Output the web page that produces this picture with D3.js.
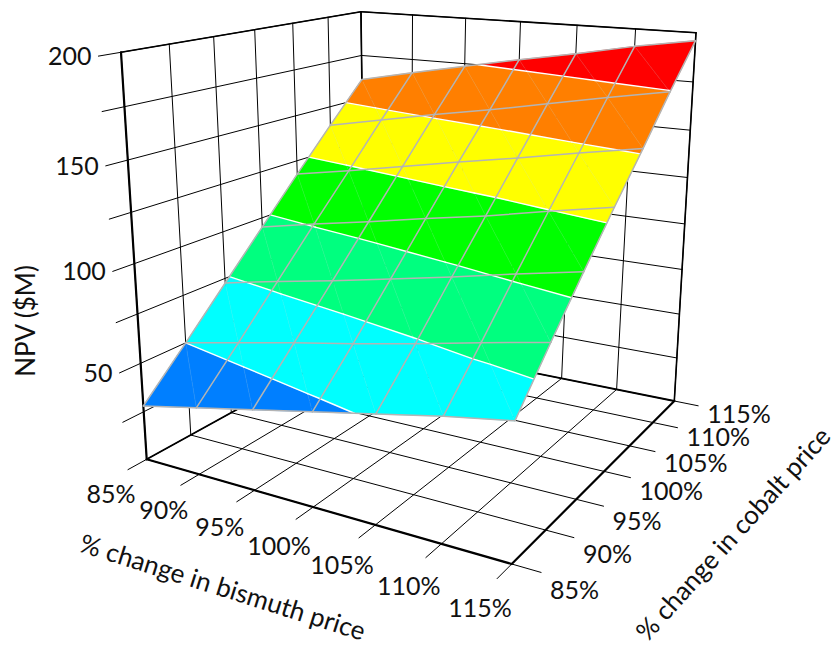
<!DOCTYPE html>
<html>
<head>
<meta charset="utf-8">
<script src="https://cdn.jsdelivr.net/npm/d3@7"></script>
<style>
	html, body { margin: 0; padding: 0; background: #fff; }
	svg { display: block; }
	text { font-family: Lato, "Open Sans", sans-serif; fill: #111; }
</style>
</head>
<body>
<div id="chart"></div>
<script>
////////////////////////////////////////////////////////////////////////////////////////
// data
////////////////////////////////////////////////////////////////////////////////////////
var bismuthTicks = [85, 90, 95, 100, 105, 110, 115];
var cobaltTicks = [85, 90, 95, 100, 105, 110, 115];
var npvGrid = [0, 25, 50, 75, 100, 125, 150, 175, 200];
var npvLabels = [50, 100, 150, 200];

// one row per cobalt tick, one column per bismuth tick
var npvCobalt85 = [28, 34, 40, 46, 52, 58, 63];
var npvCobalt90 = [50, 56, 62, 67.5, 73.5, 80, 86];
var npvCobalt95 = [72.5, 78.5, 84, 90, 96, 102.5, 108.5];
var npvCobalt100 = [95, 101, 106.5, 112.5, 118, 124.5, 130.5];
var npvCobalt105 = [117.5, 123, 129, 135, 140.5, 146.5, 152];
var npvCobalt110 = [139.5, 145.5, 151.5, 157, 163, 169, 174.5];
var npvCobalt115 = [161, 167.5, 173.5, 179.5, 185, 191, 196];
var npvRows = [npvCobalt85, npvCobalt90, npvCobalt95, npvCobalt100, npvCobalt105, npvCobalt110, npvCobalt115];

var bandLevels = [50, 75, 100, 125, 150, 175];
var bandColors = ["#007FFF", "#00FFFF", "#00FF7F", "#00FF00", "#FFFF00", "#FF7F00", "#FF0000"];

////////////////////////////////////////////////////////////////////////////////////////
// box projection : floor and ceiling corners of the 3d box, then perspective in height
////////////////////////////////////////////////////////////////////////////////////////
var floorQuad = [[146.7, 459.3], [511.7, 564], [674.3, 401], [365, 339]];
var topQuad = [[121, 52.3], [522.5, 84.7], [696, 32.7], [361, 11.7]];
var heightBend = 1.08;

var xScale = d3.scaleLinear().domain([85, 115]).range([0, 1]);
var yScale = d3.scaleLinear().domain([85, 115]).range([0, 1]);
var zScale = d3.scaleLinear().domain([0, 200]).range([0, 1]);
var bandColor = d3.scaleThreshold().domain(bandLevels).range(bandColors);

function quadMap(q) {
	var dx1 = q[1][0] - q[2][0], dx2 = q[3][0] - q[2][0], dx3 = q[0][0] - q[1][0] + q[2][0] - q[3][0];
	var dy1 = q[1][1] - q[2][1], dy2 = q[3][1] - q[2][1], dy3 = q[0][1] - q[1][1] + q[2][1] - q[3][1];
	var det = dx1 * dy2 - dx2 * dy1;
	var g = (dx3 * dy2 - dx2 * dy3) / det;
	var h = (dx1 * dy3 - dx3 * dy1) / det;
	var a = q[1][0] - q[0][0] + g * q[1][0], b = q[3][0] - q[0][0] + h * q[3][0];
	var d = q[1][1] - q[0][1] + g * q[1][1], e = q[3][1] - q[0][1] + h * q[3][1];
	return function (u, v) {
		var w = g * u + h * v + 1;
		return [(a * u + b * v + q[0][0]) / w, (d * u + e * v + q[0][1]) / w];
	};
}

var floorMap = quadMap(floorQuad);
var topMap = quadMap(topQuad);

function project(bismuth, cobalt, npv) {
	var u = xScale(bismuth), v = yScale(cobalt), t = zScale(npv);
	var f = floorMap(u, v), c = topMap(u, v);
	var s = t / (t + heightBend * (1 - t));
	return [f[0] + (c[0] - f[0]) * s, f[1] + (c[1] - f[1]) * s];
}

////////////////////////////////////////////////////////////////////////////////////////
// drawing
////////////////////////////////////////////////////////////////////////////////////////
var svg = d3.select("#chart").append("svg").attr("width", 838).attr("height", 647);
var line = d3.line();

function seg(parent, a, b, width, color) {
	parent.append("path")
		.attr("d", line([project(a[0], a[1], a[2]), project(b[0], b[1], b[2])]))
		.attr("fill", "none")
		.attr("stroke", color || "#000")
		.attr("stroke-width", width)
		.attr("stroke-linecap", "round");
}

var xMin = 85, xMax = 115, yMin = 85, yMax = 115, zMax = 200;
var box = svg.append("g");

// walls + floor grid
bismuthTicks.forEach(function (b) {
	seg(box, [b, yMax, 0], [b, yMax, zMax], 1);
	seg(box, [b, yMin - 2, 0], [b, yMax, 0], 1);
});
cobaltTicks.forEach(function (c) {
	seg(box, [xMin, c, 0], [xMin, c, zMax], 1);
	seg(box, [xMin, c, 0], [xMax + 2, c, 0], 1);
});
npvGrid.forEach(function (z) {
	if (z === 0) return;
	seg(box, [xMin, yMin - 2.2, z], [xMin, yMax, z], 1);
	seg(box, [xMin, yMax, z], [xMax, yMax, z], 1);
});

// box frame
seg(box, [xMin, yMin, 0], [xMin, yMin, zMax], 2.2);
seg(box, [xMin, yMin, 0], [xMax, yMin, 0], 2.2);
seg(box, [xMax, yMin, 0], [xMax, yMax, 0], 2.2);
seg(box, [xMin, yMin, 0], [xMin, yMax, 0], 1.8);
seg(box, [xMin, yMax, 0], [xMax, yMax, 0], 1.8);
seg(box, [xMax, yMax, 0], [xMax, yMax, zMax], 1.6);
seg(box, [xMin, yMax, 0], [xMin, yMax, zMax], 1.6);
seg(box, [xMin, yMin, zMax], [xMin, yMax, zMax], 1.6);
seg(box, [xMin, yMax, zMax], [xMax, yMax, zMax], 1.6);

// surface triangles -> colour bands
function clipAbove(poly, level, keepAbove) {
	var out = [];
	poly.forEach(function (p, i) {
		var q = poly[(i + 1) % poly.length];
		var pIn = keepAbove ? p[2] >= level : p[2] <= level;
		var qIn = keepAbove ? q[2] >= level : q[2] <= level;
		if (pIn) out.push(p);
		if (pIn !== qIn) {
			var k = (level - p[2]) / (q[2] - p[2]);
			out.push([p[0] + (q[0] - p[0]) * k, p[1] + (q[1] - p[1]) * k, level]);
		}
	});
	return out;
}

var triangles = [];
for (var r = 0; r < cobaltTicks.length - 1; r++) {
	for (var i = 0; i < bismuthTicks.length - 1; i++) {
		var p00 = [bismuthTicks[i], cobaltTicks[r], npvRows[r][i]];
		var p10 = [bismuthTicks[i + 1], cobaltTicks[r], npvRows[r][i + 1]];
		var p01 = [bismuthTicks[i], cobaltTicks[r + 1], npvRows[r + 1][i]];
		var p11 = [bismuthTicks[i + 1], cobaltTicks[r + 1], npvRows[r + 1][i + 1]];
		triangles.push([p00, p10, p01]);
		triangles.push([p10, p11, p01]);
	}
}

var surface = svg.append("g");
var bandEdges = [0].concat(bandLevels, [zMax]);

triangles.forEach(function (tri) {
	bandColors.forEach(function (col, k) {
		var poly = clipAbove(clipAbove(tri, bandEdges[k], true), bandEdges[k + 1], false);
		if (poly.length < 3) return;
		surface.append("path")
			.attr("d", line(poly.map(function (p) { return project(p[0], p[1], p[2]); })) + "Z")
			.attr("fill", bandColor((bandEdges[k] + bandEdges[k + 1]) / 2))
			.attr("stroke", bandColor((bandEdges[k] + bandEdges[k + 1]) / 2))
			.attr("stroke-width", 0.5);
	});
});

// faint triangle diagonals
for (var r2 = 0; r2 < cobaltTicks.length - 1; r2++) {
	for (var i2 = 0; i2 < bismuthTicks.length - 1; i2++) {
		seg(surface, [bismuthTicks[i2 + 1], cobaltTicks[r2], npvRows[r2][i2 + 1]],
			[bismuthTicks[i2], cobaltTicks[r2 + 1], npvRows[r2 + 1][i2]], 0.5, "rgba(170,200,200,0.3)");
	}
}

// white contour lines
triangles.forEach(function (tri) {
	bandLevels.forEach(function (level) {
		var cross = [];
		tri.forEach(function (p, j) {
			var q = tri[(j + 1) % 3];
			if ((p[2] < level) !== (q[2] < level)) {
				var k = (level - p[2]) / (q[2] - p[2]);
				cross.push([p[0] + (q[0] - p[0]) * k, p[1] + (q[1] - p[1]) * k, level]);
			}
		});
		if (cross.length === 2) seg(surface, cross[0], cross[1], 1.4, "#fff");
	});
});

// grey mesh
var meshColor = "#b4b4b4";
npvRows.forEach(function (row, ri) {
	row.forEach(function (z, ci) {
		if (ci < row.length - 1) seg(surface, [bismuthTicks[ci], cobaltTicks[ri], z], [bismuthTicks[ci + 1], cobaltTicks[ri], row[ci + 1]], 1.5, meshColor);
		if (ri < npvRows.length - 1) seg(surface, [bismuthTicks[ci], cobaltTicks[ri], z], [bismuthTicks[ci], cobaltTicks[ri + 1], npvRows[ri + 1][ci]], 1.5, meshColor);
	});
});

////////////////////////////////////////////////////////////////////////////////////////
// labels
////////////////////////////////////////////////////////////////////////////////////////
var labels = svg.append("g").style("font-size", "25px");

npvLabels.forEach(function (z) {
	var e = project(xMin, yMin - 2.2, z);
	labels.append("text").attr("x", e[0] - 7).attr("y", e[1] + 9).attr("text-anchor", "end").text(z);
});
bismuthTicks.forEach(function (b) {
	var e = project(b, yMin - 2, 0);
	labels.append("text").attr("x", e[0] - 17).attr("y", e[1] + 33 + 5 * xScale(b)).attr("text-anchor", "middle").text(b + "%");
});
cobaltTicks.forEach(function (c) {
	var e = project(xMax + 2, c, 0);
	// labels crowd closer to the tick toward the back of the box
	labels.append("text").attr("x", e[0] + 9).attr("y", e[1] + 27 - 10 * yScale(c)).text(c + "%");
});

var titles = svg.append("g").style("font-size", "26px");
titles.append("text").attr("transform", "translate(35,321) rotate(-90)").attr("text-anchor", "middle").text("NPV ($M)");
titles.append("text").attr("transform", "translate(220,596) rotate(17.5)").attr("text-anchor", "middle").text("% change in bismuth price");
titles.append("text").attr("transform", "translate(740,540) rotate(-48)").attr("text-anchor", "middle").text("% change in cobalt price");
</script>
</body>
</html>
